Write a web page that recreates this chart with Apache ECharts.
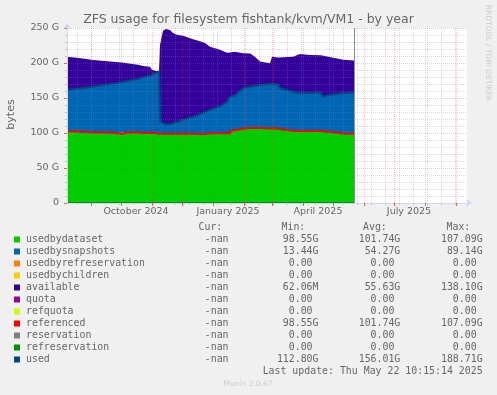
<!DOCTYPE html>
<html><head><meta charset="utf-8">
<script src="https://cdn.jsdelivr.net/npm/echarts@6/dist/echarts.min.js"></script>
<style>html,body{margin:0;padding:0;background:#F0F0F0;} #c{width:497px;height:395px;}</style>
</head><body><div id="c"></div>
<script>
// ---- data (values in GiB) ----
const dates = ['2024-08-08','2024-08-20','2024-08-21','2024-09-03','2024-09-20','2024-09-21','2024-10-02','2024-10-03','2024-10-07','2024-10-18','2024-10-19','2024-10-23','2024-10-30','2024-11-01','2024-11-05','2024-11-08','2024-11-09','2024-11-12','2024-11-15','2024-11-19','2024-11-22','2024-11-26','2024-12-02','2024-12-12','2024-12-19','2024-12-24','2024-12-29','2025-01-08','2025-01-15','2025-01-18','2025-01-19','2025-01-23','2025-01-31','2025-02-07','2025-02-11','2025-02-17','2025-02-27','2025-03-01','2025-03-07','2025-03-09','2025-03-22','2025-03-29','2025-04-08','2025-04-19','2025-04-20','2025-04-30','2025-05-01','2025-05-11','2025-05-22'];
const usedbydataset = [102.0,102.0,100.7,100.7,100.7,98.8,98.8,100.7,100.7,100.7,100.0,100.0,100.0,100.0,100.0,99.0,99.0,99.0,99.0,99.0,99.0,99.0,99.0,99.0,98.6,98.6,99.5,99.5,99.5,99.5,104.0,104.0,106.0,107.0,107.0,107.0,106.5,106.5,106.5,104.0,103.0,103.0,103.0,103.0,101.5,101.5,99.5,99.3,99.0];
const usedbysnapshots = [59.5,61.5,63.0,65.5,69.3,71.4,73.7,72.1,73.6,76.3,77.3,79.5,82.0,83.5,86.5,89.1,17.0,15.0,13.5,14.0,15.0,17.0,20.0,24.3,28.4,31.4,33.5,38.5,45.3,52.5,49.0,50.0,57.8,59.0,60.0,61.6,63.5,63.5,63.0,60.0,56.0,54.0,54.0,55.0,50.5,53.5,56.0,57.7,58.5];
const available = [47.5,43.5,43.1,38.1,32.0,31.7,28.3,27.7,25.2,20.5,19.9,16.2,12.5,7.0,2.0,0.06,110.0,132.0,136.0,134.0,129.0,124.5,120.0,110.7,104.0,98.5,90.3,81.0,69.7,63.0,62.5,62.0,50.2,47.5,43.0,33.4,29.5,39.0,38.5,42.7,50.0,55.9,54.6,53.0,58.0,53.0,52.0,47.5,46.0];
const lastUpdateDate = '2025-05-22';

// axis
const xMinDate = '2024-08-08', xMaxDate = '2025-09-12';
const xLabels = ['October 2024','January 2025','April 2025','July 2025'];
const xLabelDates = ['2024-10-16','2025-01-16','2025-04-16','2025-07-16'];
const monthTickDates = ['2024-09-01','2024-10-01','2024-11-01','2024-12-01','2025-01-01','2025-02-01','2025-03-01','2025-04-01','2025-05-01','2025-06-01','2025-07-01','2025-08-01','2025-09-01'];
const minorTickDates = ['2024-08-18','2024-09-01','2024-09-15','2024-09-29','2024-10-13','2024-10-27','2024-11-10','2024-11-24','2024-12-08','2024-12-22','2025-01-05','2025-01-19','2025-02-02','2025-02-16','2025-03-02','2025-03-16','2025-03-30','2025-04-13','2025-04-27','2025-05-11','2025-05-25','2025-06-08','2025-06-22','2025-07-06','2025-07-20','2025-08-03','2025-08-17','2025-08-31'];
const yTicks = [0,50,100,150,200,250];

// legend table
const legendNames = ['usedbydataset','usedbysnapshots','usedbyrefreservation','usedbychildren','available','quota','refquota','referenced','reservation','refreservation','used'];
const legendColors = ['#00CC00','#0066B3','#FF8000','#FFCC00','#330099','#990099','#CCFF00','#FF0000','#808080','#008F00','#00487D'];
const curVals = ['-nan','-nan','-nan','-nan','-nan','-nan','-nan','-nan','-nan','-nan','-nan'];
const minVals = ['98.55G','13.44G','0.00','0.00','62.06M','0.00','0.00','98.55G','0.00','0.00','112.80G'];
const avgVals = ['101.74G','54.27G','0.00','0.00','55.63G','0.00','0.00','101.74G','0.00','0.00','156.01G'];
const maxVals = ['107.09G','89.14G','0.00','0.00','138.10G','0.00','0.00','107.09G','0.00','0.00','188.71G'];

// ---- build ----
const toTime = s => new Date(s + 'T00:00:00').getTime();
const pairs = arr => dates.map((d, i) => [toTime(d), arr[i]]);
const zeros = dates.map(() => 0);
const referenced = usedbydataset.slice();
const used = usedbydataset.map((v, i) => +(v + usedbysnapshots[i]).toFixed(2));
const xLabelTimes = xLabelDates.map(toTime);
const X0 = toTime(xMinDate), X1 = toTime(xMaxDate);

const chart = echarts.init(document.getElementById('c'), null, {renderer: 'canvas'});
const SANS = 'DejaVu Sans';
const MONO = 'DejaVu Sans Mono';
const FC = '#666666';
const AX = '#CFD6F8';
const MAJ = 'rgba(235,60,60,0.3)';
const MIN = 'rgba(140,140,140,0.3)';

function area(name, arr, color) {
  return {name, type: 'line', stack: 'zfs', data: pairs(arr), symbol: 'none', showSymbol: false,
    lineStyle: {width: 0}, areaStyle: {color, opacity: 1}, itemStyle: {color}, z: 2, silent: true};
}
function line(name, arr, color) {
  return {name, type: 'line', data: pairs(arr), symbol: 'none', showSymbol: false,
    lineStyle: {width: 2, color}, itemStyle: {color}, z: 3, silent: true};
}

const series = [
  area('usedbydataset', usedbydataset, '#00CC00'),
  area('usedbysnapshots', usedbysnapshots, '#0066B3'),
  area('usedbyrefreservation', zeros, '#FF8000'),
  area('usedbychildren', zeros, '#FFCC00'),
  area('available', available, '#330099'),
  line('quota', zeros, '#990099'),
  line('refquota', zeros, '#CCFF00'),
  line('referenced', referenced, '#FF0000'),
  line('reservation', zeros, '#808080'),
  line('refreservation', zeros, '#008F00'),
  Object.assign(line('used', used, '#00487D'), {
    markLine: {silent: true, symbol: ['none', 'none'], label: {show: false},
      lineStyle: {color: '#909090', width: 1, type: 'solid'},
      data: [{xAxis: toTime(lastUpdateDate)}]}
  })
];

// legend graphics
const graphic = [];
const rowY0 = 239.5, rowH = 12, cw = 5.96;
const fsMono = 9.9;
const colRight = {cur: 234.5, min: 318.5, avg: 400.3, max: 482.6};
function cellRight(anchor, s) { return /[GMk]$/.test(s) ? anchor : anchor - cw; }
const hdr = [['Cur:', 198.5], ['Min:', 281.5], ['Avg:', 363], ['Max:', 446.5]];
hdr.forEach(([t, x]) => graphic.push({type: 'text', x, y: 227, style: {text: t, font: fsMono + 'px ' + MONO, fill: FC, verticalAlign: 'middle'}}));
legendNames.forEach((n, i) => {
  const y = rowY0 + i * rowH;
  graphic.push({type: 'rect', shape: {x: 14, y: y - 3, width: 6, height: 6}, style: {fill: legendColors[i]}});
  graphic.push({type: 'text', x: 26, y, style: {text: n, font: fsMono + 'px ' + MONO, fill: FC, verticalAlign: 'middle'}});
  [['cur', curVals], ['min', minVals], ['avg', avgVals], ['max', maxVals]].forEach(([k, arr]) => {
    graphic.push({type: 'text', x: cellRight(colRight[k], arr[i]), y,
      style: {text: arr[i], font: fsMono + 'px ' + MONO, fill: FC, align: 'right', verticalAlign: 'middle'}});
  });
});
graphic.push({type: 'text', x: 482.6, y: 371.5, style: {text: 'Last update: Thu May 22 10:15:14 2025', font: fsMono + 'px ' + MONO, fill: FC, align: 'right', verticalAlign: 'middle'}});
graphic.push({type: 'text', x: 248, y: 384.5, style: {text: 'Munin 2.0.67', font: '7.5px ' + SANS, fill: '#CCCCCC', align: 'center', verticalAlign: 'middle'}});
graphic.push({type: 'text', x: 248.5, y: 20, style: {text: 'ZFS usage for filesystem fishtank/kvm/VM1 - by year', font: '12.5px ' + SANS, fill: FC, align: 'center', verticalAlign: 'middle'}});
graphic.push({type: 'text', x: 11.5, y: 114.5, rotation: Math.PI / 2, style: {text: 'bytes', font: '11px ' + SANS, fill: FC, align: 'center', verticalAlign: 'middle'}});
graphic.push({type: 'text', x: 487.5, y: 53, rotation: -Math.PI / 2, style: {text: 'RRDTOOL / TOBI OETIKER', font: '7.5px ' + SANS, fill: '#CCCCCC', align: 'center', verticalAlign: 'middle'}});

const option = {
  animation: false,
  backgroundColor: '#F0F0F0',
  grid: {left: 67, top: 28, width: 400, height: 175, show: true, backgroundColor: '#FFFFFF', borderWidth: 0},
  xAxis: [{
    // data axis (time), hidden
    type: 'time', min: X0, max: X1, position: 'bottom',
    axisLine: {show: false}, axisTick: {show: false}, axisLabel: {show: false}, splitLine: {show: false}
  }, {
    // major ticks, grid + labels
    type: 'value', min: X0, max: X1, position: 'bottom', z: 7,
    axisLine: {show: true, lineStyle: {color: AX, width: 1}, symbol: ['none', 'arrow'], symbolSize: [6, 6], symbolOffset: [0, 5]},
    axisTick: {show: true, length: 3, customValues: monthTickDates.map(toTime), lineStyle: {color: 'rgba(230,60,60,0.8)'}},
    axisLabel: {show: true, customValues: xLabelTimes, margin: 4, color: FC, fontFamily: SANS, fontSize: 9.5,
      formatter: v => { const i = xLabelTimes.indexOf(+v); return i >= 0 ? xLabels[i] : ''; }},
    splitLine: {show: true, lineStyle: {color: MAJ, width: 1, type: [1, 1]}}
  }, {
    // minor ticks + grid
    type: 'value', min: X0, max: X1, position: 'bottom', z: 6,
    axisLine: {show: false},
    axisTick: {show: true, length: 2, customValues: minorTickDates.map(toTime), lineStyle: {color: '#BBBBBB'}},
    axisLabel: {show: false},
    splitLine: {show: true, lineStyle: {color: MIN, width: 1, type: [1, 1]}}
  }],
  yAxis: {
    type: 'value', min: yTicks[0], max: yTicks[yTicks.length - 1], interval: 50, z: 7,
    axisLine: {show: true, lineStyle: {color: AX, width: 1}, symbol: ['none', 'arrow'], symbolSize: [6, 6], symbolOffset: [0, 5]},
    axisTick: {show: true, length: 3, lineStyle: {color: 'rgba(230,60,60,0.8)'}},
    minorTick: {show: true, splitNumber: 5, length: 2, lineStyle: {color: '#BBBBBB'}},
    axisLabel: {margin: 8, color: FC, fontFamily: SANS, fontSize: 9.5, formatter: v => v === 0 ? '0' : v + ' G'},
    splitLine: {show: true, lineStyle: {color: MAJ, width: 1, type: [1, 1]}},
    minorSplitLine: {show: true, lineStyle: {color: MIN, width: 1, type: [1, 1]}}
  },
  series,
  graphic
};
chart.setOption(option);
</script>
</body></html>
